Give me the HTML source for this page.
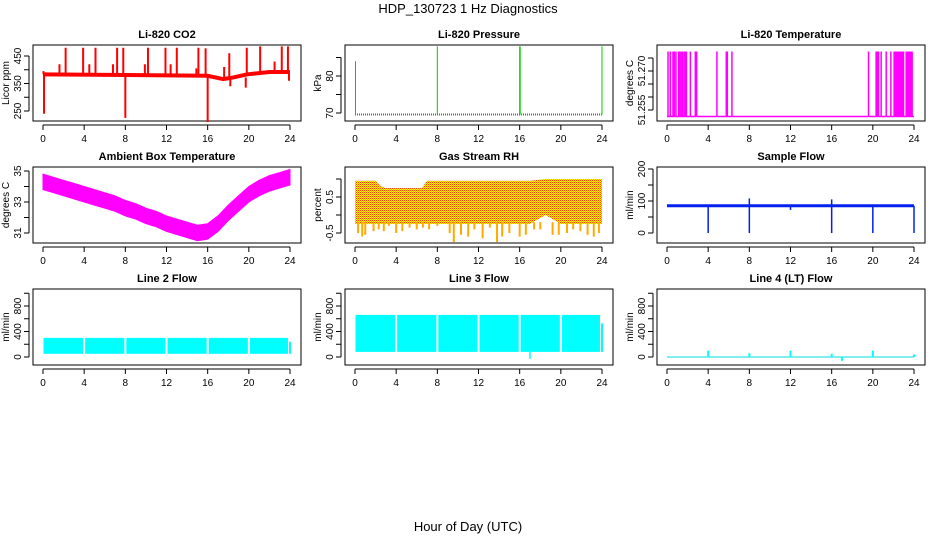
<!DOCTYPE html>
<html><head><meta charset="utf-8">
<style>
html,body{margin:0;padding:0;background:#fff;}
svg{display:block;font-family:"Liberation Sans",Arial,sans-serif;}
</style></head>
<body>
<svg id="c" width="936" height="540" viewBox="0 0 936 540">
<defs>
<pattern id="rhpat" width="2" height="2" patternUnits="userSpaceOnUse">
<rect width="2" height="2" fill="#ffee00"/><rect width="1" height="1" fill="#ff4400"/><rect x="1" y="1" width="1" height="1" fill="#ffaa00"/>
</pattern>
</defs>
<text x="468" y="13" font-size="13" text-anchor="middle">HDP_130723  1 Hz Diagnostics</text>
<text x="468" y="531" font-size="13" text-anchor="middle">Hour of Day (UTC)</text>
</svg>
<script>
var hours = [0,4,8,12,16,20,24];
var co2Base = [[0,383],[8,381],[16,378],[17.5,366],[18.5,372],[19.8,383],[22,392],[24,392]];
var co2Spikes = [[0.1,240],[0.05,395],[1.6,420],[2.2,480],[3.9,480],[4.5,420],[5.1,480],[6.8,420],[7.2,480],[7.8,480],[8.0,225],[9.9,420],[10.2,480],[11.9,480],[12.4,420],[13.0,480],[14.9,405],[15.1,480],[15.8,478],[16.0,210],[17.6,410],[18.1,460],[18.2,340],[19.7,335],[19.8,480],[21.1,485],[22.5,430],[23.2,485],[23.8,485],[23.9,360]];
var presBase = 69.6;
var presSpikes = [[0.05,84],[8,88],[16,88],[16.05,88],[24,88]];
var tempLow = 51.2525, tempHigh = 51.2775;
var tempHours = [0.1,0.32,0.58,0.71,0.87,1.13,1.23,1.36,1.49,1.65,1.78,1.88,2.27,2.75,2.88,4.85,5.76,5.86,6.31,19.58,20.32,20.38,20.45,20.55,20.81,21.3,21.75,22.07,22.17,22.25,22.33,22.42,22.5,22.58,22.66,22.75,22.83,22.9,22.98,23.24,23.3,23.38,23.46,23.54,23.62,23.7,23.78,23.82];
var ambHours = [0,1,2,3,4,5,6,7,8,9,10,11,12,13,14,15,16,17,18,19,20,21,22,23,24];
var ambMid = [34.3,34.1,33.9,33.7,33.5,33.3,33.1,32.9,32.6,32.4,32.1,31.9,31.6,31.4,31.2,31.0,31.1,31.6,32.3,32.9,33.5,33.9,34.2,34.4,34.6];
var rhHours = [0,1,2,2.5,3,6.5,7,9,12,15,17,18.5,20,22,24];
var rhUpper = [0.95,0.95,0.95,0.8,0.75,0.75,0.95,0.95,0.95,0.95,0.95,1.0,1.0,1.0,1.0];
var rhLower = [-0.25,-0.25,-0.25,-0.25,-0.25,-0.25,-0.25,-0.25,-0.25,-0.25,-0.25,0.0,-0.25,-0.25,-0.25];
var rhDips = [[0.3,-0.5],[0.7,-0.6],[1.0,-0.55],[1.8,-0.45],[2.3,-0.4],[2.8,-0.45],[3.3,-0.3],[4.0,-0.5],[4.6,-0.45],[5.3,-0.35],[6.0,-0.4],[6.6,-0.35],[7.2,-0.4],[8.0,-0.3],[9.2,-0.5],[9.6,-0.75],[10.3,-0.55],[11.0,-0.6],[11.6,-0.4],[12.4,-0.65],[13.1,-0.35],[13.8,-0.75],[14.3,-0.6],[15.0,-0.5],[16.0,-0.6],[16.6,-0.55],[17.4,-0.4],[18.0,-0.4],[19.2,-0.55],[19.8,-0.55],[20.6,-0.5],[21.2,-0.4],[21.9,-0.45],[22.6,-0.55],[23.2,-0.6],[23.7,-0.5]];
var flowBase = 85;
var flowDips = [[4,0],[8,0],[12,72],[16,0],[20,0],[24,0]];
var flowSpikes = [[8,108],[16,105]];
var line2Low = 50, line2High = 300;
var line3Low = 80, line3High = 660;
var gapHours = [4,8,12,16,20];
var line4Spikes = [[4,100],[8,60],[12,100],[16,50],[17,-60],[20,100],[24,40]];

var svg = document.getElementById('c');
var NS = 'http://www.w3.org/2000/svg';
function mk(tag, attrs, name, parent){
  var el = document.createElementNS(NS, tag);
  for (var k in attrs) el.setAttribute(k, attrs[k]);
  
  
  (parent||svg).appendChild(el);
  return el;
}
function lin(v1,p1,v2,p2){ return function(v){ return p1 + (v-v1)*(p2-p1)/(v2-v1); }; }

function panel(col,row,title,ylab,yticks,ylabels,sy,key){
  var ox = col*312, oy = row*122;
  var g = mk('g',{},key+'-panel');
  var L=33+ox, R=301+ox, T=45+oy, B=121+oy;
  var sx = lin(0,43+ox,24,290+ox);
  mk('rect',{x:L,y:T,width:R-L,height:B-T,fill:'none',stroke:'#000','stroke-width':1},key+'-frame',g);
  mk('text',{x:(L+R)/2,y:T-7,'font-size':11,'font-weight':'bold','text-anchor':'middle'},key+'-title',g).textContent=title;
  hours.forEach(function(h){
    mk('line',{x1:sx(h),x2:sx(h),y1:B+4,y2:B+9,stroke:'#000'},key+'-x-tick',g);
    mk('text',{x:sx(h),y:B+21,'font-size':10,'text-anchor':'middle'},key+'-x-label',g).textContent=h;
  });
  mk('line',{x1:sx(0),x2:sx(24),y1:B+4,y2:B+4,stroke:'#000'},key+'-x-axis',g);
  var yy = yticks.map(sy);
  mk('line',{x1:L-4,x2:L-4,y1:Math.min.apply(null,yy),y2:Math.max.apply(null,yy),stroke:'#000'},key+'-y-axis',g);
  yticks.forEach(function(t,i){
    var y=sy(t);
    mk('line',{x1:L-9,x2:L-4,y1:y,y2:y,stroke:'#000'},key+'-y-tick',g);
    if (ylabels[i]!==''){
      var tx=mk('text',{x:L-12,y:y,'font-size':10,'text-anchor':'middle',transform:'rotate(-90 '+(L-12)+' '+y+')'},key+'-y-label',g);
      tx.textContent=ylabels[i];
    }
  });
  var cy=(T+B)/2;
  mk('text',{x:L-24,y:cy,'font-size':10,'text-anchor':'middle',transform:'rotate(-90 '+(L-24)+' '+cy+')'},key+'-y-title',g).textContent=ylab;
  return {g:g,sx:sx,sy:sy,T:T,B:B};
}
function vline(p,h,a,b,color,w,name){
  mk('line',{x1:p.sx(h),x2:p.sx(h),y1:p.sy(a),y2:p.sy(b),stroke:color,'stroke-width':w||1},name,p.g);
}
function pathFrom(p,xs,ys){ return xs.map(function(x,i){return (i?'L':'M')+p.sx(x)+' '+p.sy(ys[i]);}).join(' '); }

// P1 CO2
var p1 = panel(0,0,'Li-820 CO2','Licor ppm',[250,300,350,400,450],['250','','350','','450'],lin(250,111,450,56),'co2');
mk('path',{d:pathFrom(p1,co2Base.map(function(d){return d[0];}),co2Base.map(function(d){return d[1];})),fill:'none',stroke:'#ff0000','stroke-width':4},'co2-line',p1.g);
co2Spikes.forEach(function(s){
  var base = 383; for (var i=0;i<co2Base.length;i++) if (co2Base[i][0]<=s[0]) base=co2Base[i][1];
  vline(p1,s[0],base,s[1],'#ff0000',2,'co2-spike');
});

// P2 Pressure
var p2 = panel(1,0,'Li-820 Pressure','kPa',[70,75,80,85],['70','','80',''],lin(70,113,80,76),'pressure');
mk('path',{d:pathFrom(p2,[0,24],[presBase,presBase]),fill:'none',stroke:'#00b000','stroke-width':2,'stroke-dasharray':'1 1'},'pressure-line',p2.g);
presSpikes.forEach(function(s){ vline(p2,s[0],presBase,s[1],'#00cc00',1,'pressure-spike'); });

// P3 Temperature
var p3 = panel(2,0,'Li-820 Temperature','degrees C',[51.255,51.26,51.265,51.27,51.275],['51.255','','','51.270',''],lin(51.255,110,51.27,71),'li820-temp');
mk('path',{d:pathFrom(p3,[0,24],[tempLow,tempLow]),fill:'none',stroke:'#ff00ff','stroke-width':1.5},'temp-line',p3.g);
tempHours.forEach(function(h){ vline(p3,h,tempLow,tempHigh,'#ff00ff',1.5,'temp-jump'); });

// P4 Ambient
var p4 = panel(0,1,'Ambient Box Temperature','degrees C',[31,32,33,34,35],['31','','33','','35'],lin(31,233,35,171),'ambient');
var up = ambMid.map(function(v){return v+0.5;}), lo = ambMid.map(function(v){return v-0.5;});
mk('path',{d:pathFrom(p4,ambHours,up)+' '+pathFrom(p4,ambHours.slice().reverse(),lo.slice().reverse()).replace('M','L')+' Z',fill:'#ff00ff',stroke:'#ff00ff','stroke-width':1},'ambient-band',p4.g);

// P5 RH
var p5 = panel(1,1,'Gas Stream RH','percent',[-0.5,0,0.5,1],['-0.5','','0.5',''],lin(0,215,0.5,197),'rh');
mk('path',{d:pathFrom(p5,rhHours,rhUpper)+' '+pathFrom(p5,rhHours.slice().reverse(),rhLower.slice().reverse()).replace('M','L')+' Z',fill:'url(#rhpat)'},'rh-band',p5.g);
rhDips.forEach(function(d){ vline(p5,d[0],-0.2,d[1],'#ffaa00',2,'rh-dip'); });

// P6 Sample flow
var p6 = panel(2,1,'Sample Flow','ml/min',[0,50,100,150,200],['0','','100','','200'],lin(0,233,200,169),'sample-flow');
mk('path',{d:pathFrom(p6,[0,24],[flowBase,flowBase]),fill:'none',stroke:'#0022ee','stroke-width':3},'sample-flow-line',p6.g);
flowDips.forEach(function(d){ vline(p6,d[0],flowBase,d[1],'#0022ee',1.5,'sample-flow-dip'); });
flowSpikes.forEach(function(d){ vline(p6,d[0],flowBase,d[1],'#0022ee',1.5,'sample-flow-spike'); });

// Row 3 flows
function bandPanel(col,title,key,low,high){
  var p = panel(col,2,title,'ml/min',[0,200,400,600,800,1000],['0','','400','','800',''],lin(0,357,800,306),key);
  var edges=[0.05].concat(gapHours).concat([23.9]);
  for (var i=0;i<edges.length-1;i++){
    var a=p.sx(edges[i])+(i?1:0), b=p.sx(edges[i+1])-1;
    mk('rect',{x:a,y:p.sy(high),width:b-a,height:p.sy(low)-p.sy(high),fill:'#00ffff'},key+'-band',p.g);
  }
  vline(p,24,low,high*0.8,'#00ffff',2,key+'-end');
  return p;
}
bandPanel(0,'Line 2 Flow','line2-flow',line2Low,line2High);
var p8 = bandPanel(1,'Line 3 Flow','line3-flow',line3Low,line3High);
vline(p8,17,line3Low,-30,'#00ffff',1.5,'line3-dip');
var p9 = panel(2,2,'Line 4 (LT) Flow','ml/min',[0,200,400,600,800,1000],['0','','400','','800',''],lin(0,357,800,306),'line4-flow');
mk('path',{d:pathFrom(p9,[0,24],[0,0]),fill:'none',stroke:'#00dddd','stroke-width':1},'line4-line',p9.g);
line4Spikes.forEach(function(s){ vline(p9,s[0],0,s[1],'#00ffff',2,'line4-spike'); });
</script>
</body></html>
